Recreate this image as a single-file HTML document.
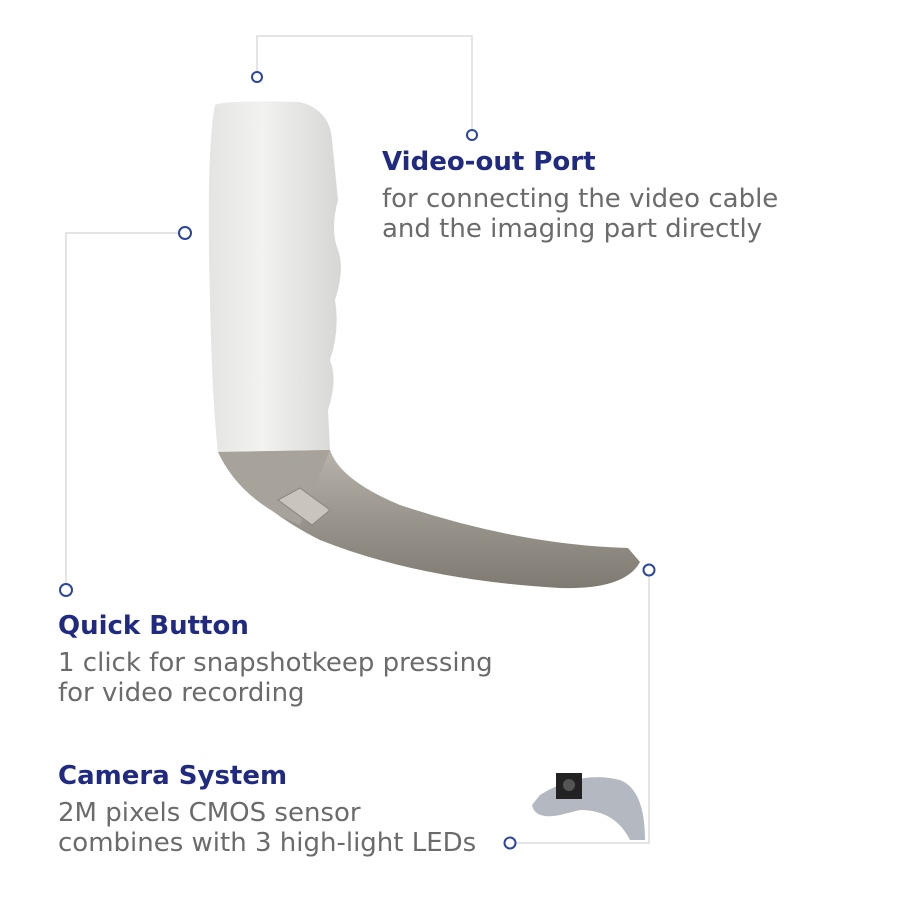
<!DOCTYPE html>
<html><head><meta charset="utf-8"><style>
body{margin:0;width:900px;height:900px;background:#fff;overflow:hidden;position:relative;font-family:"DejaVu Sans","Liberation Sans",sans-serif}
.t{position:absolute;font-weight:bold;color:#1f2a80;font-size:26px;white-space:nowrap}
.d{position:absolute;color:#6b6b6b;font-size:26px;line-height:30px;white-space:nowrap}
</style></head><body>
<svg width="900" height="900" style="position:absolute;left:0;top:0">
<defs>
<linearGradient id="h" x1="0" x2="1"><stop offset="0" stop-color="#e4e4e2"/><stop offset=".4" stop-color="#f2f2f0"/><stop offset="1" stop-color="#d6d6d4"/></linearGradient>
<linearGradient id="m" x1="0" y1="0" x2="0" y2="1"><stop offset="0" stop-color="#b8b3aa"/><stop offset=".5" stop-color="#9a958c"/><stop offset="1" stop-color="#7f7a72"/></linearGradient>
</defs>
<g fill="none" stroke="#dcdcdc" stroke-width="1.5">
<polyline points="257,72 257,36 472,36 472,130"/>
<polyline points="180,233 66,233 66,584"/>
<polyline points="649,576 649,843 516,843"/>
</g>
<g fill="#fff" stroke="#2a46a0" stroke-width="2">
<circle cx="257" cy="77" r="5"/><circle cx="472" cy="135" r="5"/>
<circle cx="185" cy="233" r="6"/><circle cx="66" cy="590" r="6"/>
<circle cx="649" cy="570" r="5.5"/><circle cx="510" cy="843" r="5.5"/>
</g>
<path d="M215,105 Q225,100 300,102 Q330,110 332,140 L338,200 Q330,230 338,250 Q345,270 335,300 Q340,330 330,360 Q338,380 328,410 L330,450 L218,452 Q212,400 210,300 Q206,150 215,105Z" fill="url(#h)"/>
<path d="M218,452 L330,450 Q340,480 400,505 Q520,545 628,548 L640,562 Q625,590 560,588 Q420,580 320,540 Q250,505 218,452Z" fill="url(#m)"/>
<path d="M218,452 Q240,500 300,525 L330,450Z" fill="#a8a39a"/>
<path d="M278,500 L300,488 L330,510 L312,525Z" fill="#c9c5bd" stroke="#8a857d"/>
<path d="M540,795 Q580,770 620,780 Q645,790 645,840 L630,840 Q615,810 580,810 L560,815 Q535,820 532,805Z" fill="#b4b8c0"/>
<rect x="556" y="773" width="26" height="26" fill="#222"/>
<circle cx="569" cy="785" r="6" fill="#555"/>
</svg>
<div class="t" style="left:382px;top:147px">Video-out Port</div>
<div class="d" style="left:382px;top:184px">for connecting the video cable<br>and the imaging part directly</div>
<div class="t" style="left:58px;top:611px">Quick Button</div>
<div class="d" style="left:58px;top:648px">1 click for snapshotkeep pressing<br>for video recording</div>
<div class="t" style="left:58px;top:761px">Camera System</div>
<div class="d" style="left:58px;top:798px">2M pixels CMOS sensor<br>combines with 3 high-light LEDs</div>
</body></html>
